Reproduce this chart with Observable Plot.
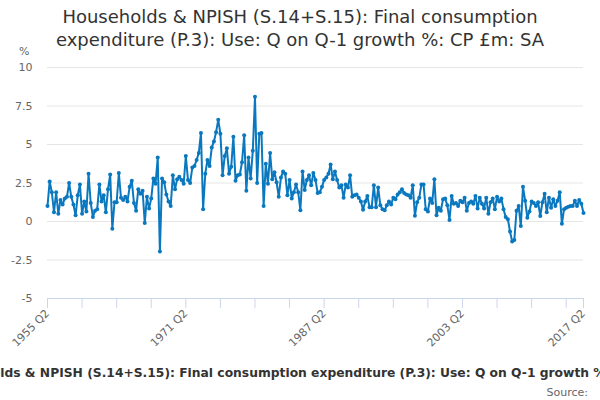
<!DOCTYPE html>
<html><head><meta charset="utf-8">
<script src="https://cdn.jsdelivr.net/npm/d3@7"></script>
<script src="https://cdn.jsdelivr.net/npm/@observablehq/plot@0.6"></script>
<style>
body{margin:0;background:#fff;font-family:"DejaVu Sans",sans-serif;}
#wrap{position:relative;width:600px;height:400px;overflow:hidden;background:#fff;}
#chart{position:absolute;left:0;top:0;}
#title{position:absolute;left:0;top:5px;width:600px;text-align:center;font-size:18px;line-height:23px;color:#333;}
#unit{position:absolute;left:19px;top:45px;font-size:11px;color:#666;}
#caption{position:absolute;left:-187px;width:1000px;top:366px;text-align:center;font-size:12.3px;font-weight:bold;color:#333;white-space:nowrap;}
#source{position:absolute;right:12px;top:386px;font-size:11px;color:#666;}
</style></head>
<body>
<div id="wrap">
<div id="chart"></div>
<div id="title">Households &amp; NPISH (S.14+S.15): Final consumption<br>expenditure (P.3): Use: Q on Q-1 growth %: CP £m: SA</div>
<div id="unit">%</div>
<div id="caption">Households &amp; NPISH (S.14+S.15): Final consumption expenditure (P.3): Use: Q on Q-1 growth %: CP £m: SA</div>
<div id="source">Source:</div>
</div>
<script>
const startYear = 1955;
const startQuarter = 2;
const growth = [
  1.0, 2.6, 1.9, 0.6, 1.9, 0.5, 1.4, 1.1, 1.5, 1.6,
  2.5, 1.6, 1.1, 0.4, 1.7, 2.4, 0.5, 1.3, 0.65, 3.1,
  1.2, 0.3, 0.7, 0.8, 2.4, 1.3, 1.7, 0.6, 2.1, 3.05,
  -0.47, 1.25, 1.25, 3.15, 1.55, 1.4, 1.6, 1.3, 2.25, 2.65,
  1.2, 0.7, 2.1, 1.8, 2.0, -0.1, 1.6, 0.85, 1.5, 2.8,
  2.45, 4.15, -1.95, 2.8, 2.55, 1.75, 1.3, 1.0, 3.0, 2.1,
  2.75, 2.9, 2.7, 2.45, 4.25, 2.7, 2.5, 3.5, 3.6, 4.0,
  4.45, 5.75, 0.8, 3.1, 4.0, 3.6, 4.8, 5.2, 5.8, 6.6,
  5.7, 3.0, 4.25, 4.75, 3.1, 3.55, 5.5, 2.65, 3.0, 3.05,
  3.85, 5.6, 2.0, 4.15, 2.8, 4.6, 8.1, 2.5, 5.7, 5.75,
  1.0, 3.75, 2.45, 4.45, 2.75, 3.2, 2.55, 1.6, 2.85, 3.25,
  3.1, 1.7, 2.7, 1.5, 1.9, 2.4, 1.9, 0.73, 3.25, 2.05,
  2.7, 3.0, 2.35, 3.15, 2.7, 1.85, 1.9, 2.25, 2.7, 2.85,
  3.1, 3.7, 2.75, 3.25, 2.7, 2.2, 2.35, 1.55, 2.4, 2.2,
  3.0, 1.6, 1.7, 1.75, 1.55, 1.3, 0.77, 1.3, 1.65, 0.93,
  0.93, 2.35, 0.93, 2.2, 1.05, 0.8, 0.73, 1.05, 1.3, 1.1,
  1.55, 1.45, 1.75, 1.9, 2.1, 1.85, 1.75, 1.7, 1.55, 2.35,
  0.37, 1.25, 1.55, 2.4, 2.4, 0.8, 0.65, 1.5, 1.2, 2.75,
  0.4, 0.9, 0.7, 1.45, 1.5, 1.05, 0.1, 1.65, 1.15, 1.2,
  1.0, 1.35, 1.25, 1.55, 0.7, 1.2, 1.3, 1.15, 1.65, 0.85,
  1.55, 1.15, 0.85, 1.55, 0.5, 1.25, 1.5, 0.8, 1.6, 1.3,
  1.5, 0.8, 0.3, 0.15, -0.65, -1.3, -1.2, 0.7, 1.0, -0.3,
  2.25, 1.35, 0.25, 0.65, 1.3, 1.2, 1.0, 1.25, 0.35, 1.25,
  1.8, 0.6, 1.55, 0.9, 1.45, 1.0, 1.35, 1.9, -0.15, 0.8,
  0.9, 0.95, 1.0, 1.0, 1.35, 1.0, 1.4, 1.15, 0.55
];
const yTicks = [-5, -2.5, 0, 2.5, 5, 7.5, 10];
const xTickLabels = ["1955 Q2", "1971 Q2", "1987 Q2", "2003 Q2", "2017 Q2"];
const lineColor = "#0a78bf";

const quarters = growth.map((_, i) => {
  const k = (startQuarter - 1) + i;
  return `${startYear + Math.floor(k / 4)} Q${(k % 4) + 1}`;
});
const data = growth.map((v, i) => ({q: quarters[i], v}));
const xTicks = quarters.filter((q, i) => i % 16 === 0 || i === quarters.length - 1);
const labelSet = new Set(xTickLabels);

const chart = Plot.plot({
  width: 600, height: 400,
  marginLeft: 47, marginRight: 17, marginTop: 67, marginBottom: 102,
  style: {fontFamily: "DejaVu Sans, sans-serif", fontSize: "11px", color: "#666", background: "transparent"},
  x: {type: "point", domain: quarters, padding: 0, label: null},
  y: {domain: [-5, 10], label: null},
  marks: [
    Plot.gridY(yTicks, {stroke: "#e6e6e6", strokeOpacity: 1}),
    Plot.axisY(yTicks, {tickSize: 0, tickPadding: 15, tickFormat: d => String(d), label: null}),
    Plot.ruleY([-5], {stroke: "#ccd6eb"}),
    Plot.axisX(xTicks, {tickSize: 10, tickPadding: 3, tickRotate: -45, stroke: "#ccd6eb", strokeOpacity: 1,
      tickFormat: d => labelSet.has(d) ? d : "", label: null}),
    Plot.line(data, {x: "q", y: "v", stroke: lineColor, strokeWidth: 2}),
    Plot.dot(data, {x: "q", y: "v", r: 2, fill: lineColor})
  ]
});
document.getElementById("chart").appendChild(chart);
</script>
</body></html>
